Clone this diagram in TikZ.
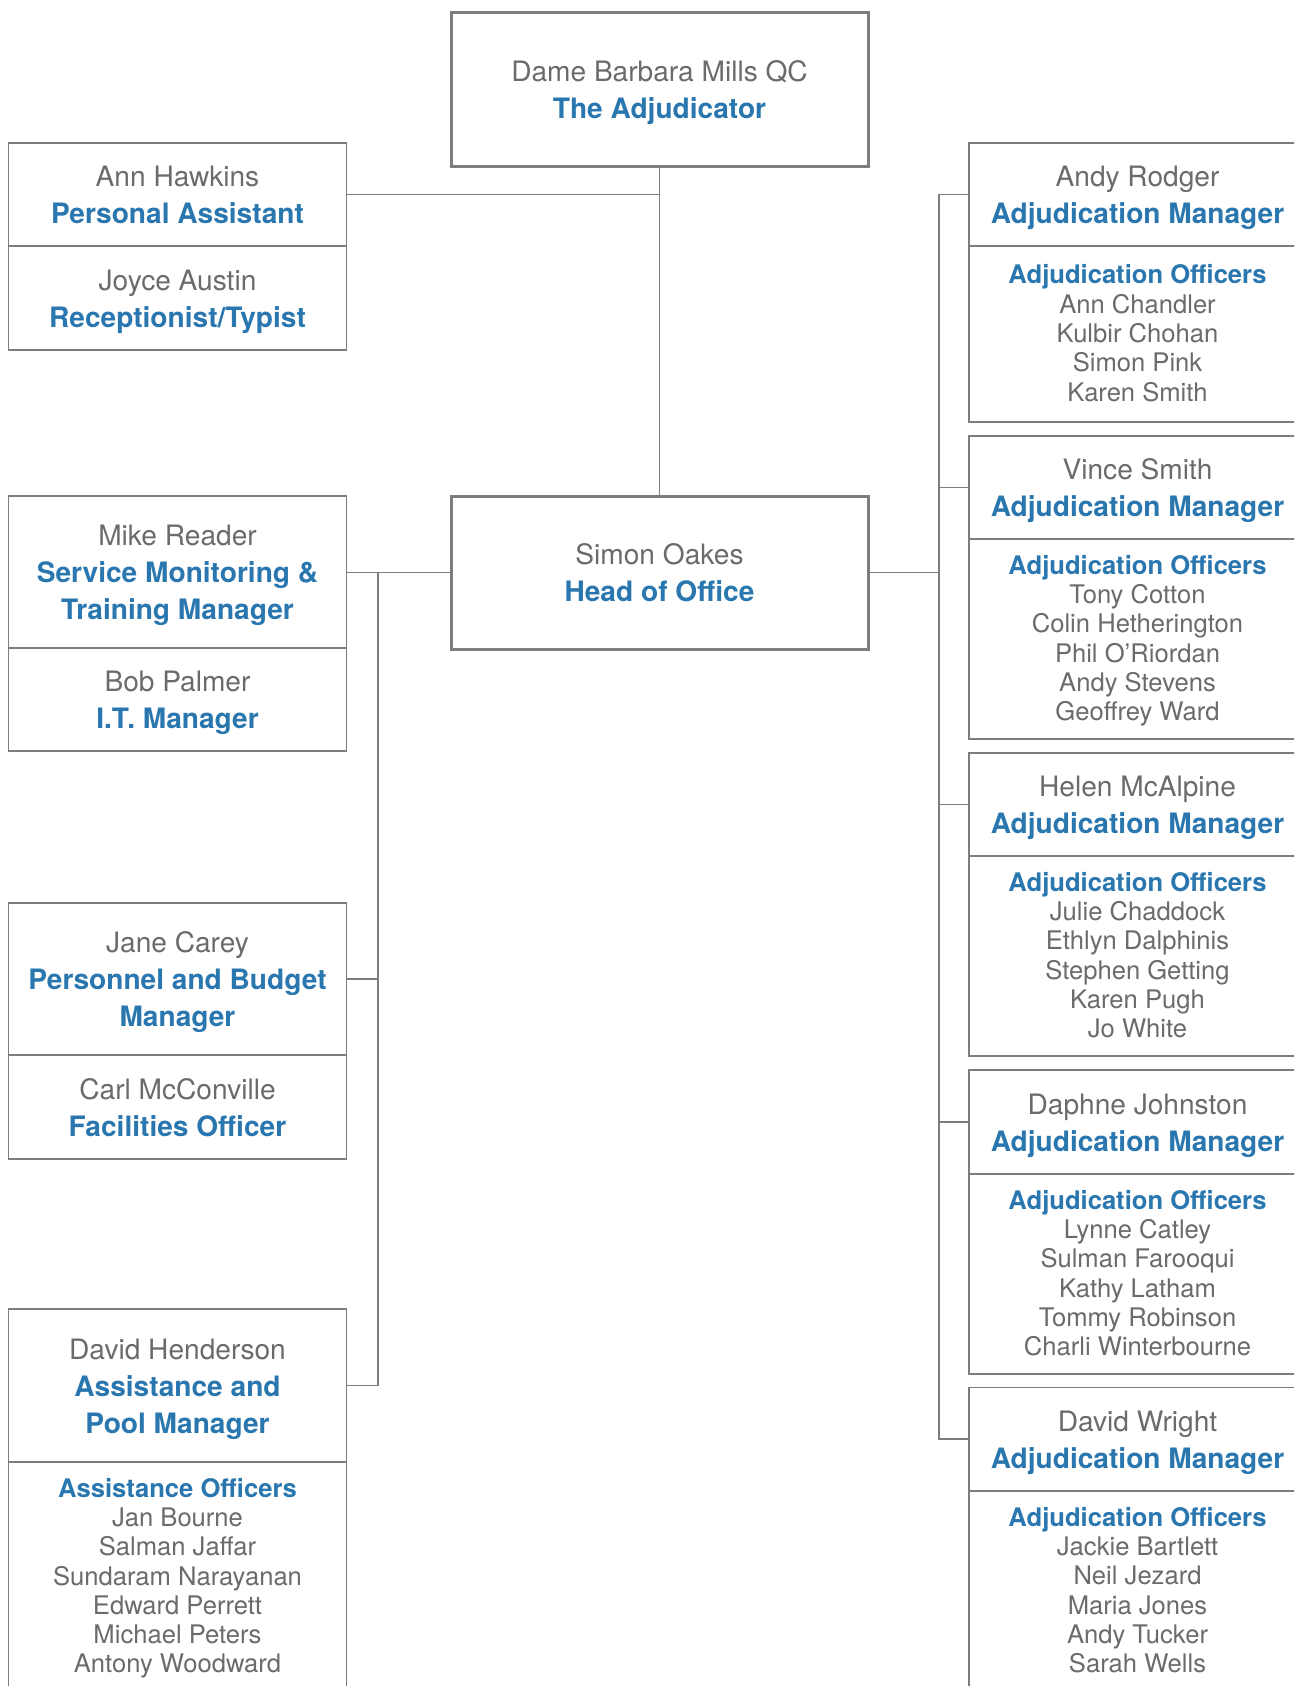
\documentclass[tikz,border=0pt]{standalone}
\usepackage{fontspec}
\setmainfont{TeX Gyre Heros}
\definecolor{tgray}{HTML}{6B6B6B}
\definecolor{tblue}{HTML}{2A77B0}
\definecolor{lgray}{HTML}{7D7D7D}
\newcommand\roleT[1]{{\bfseries\color{tblue}#1}}
\newcommand\tsH{\rule{0pt}{32pt}}
\newcommand\tsO{\rule{0pt}{26pt}}
\tikzset{
 sec/.style={draw=lgray, line width=1.4pt, rectangle, inner sep=0pt, outer sep=0pt, align=center, text=tgray},
 hdr/.style={sec, font=\fontsize{28.1}{37}\selectfont, execute at end node={\rule[-11pt]{0pt}{11pt}}},
 offs/.style={sec, font=\fontsize{25.6}{29.3}\selectfont, execute at end node={\rule[-9pt]{0pt}{9pt}}},
 lsec/.style={minimum width=338pt},
 rsec/.style={minimum width=337pt},
 bigbox/.style={hdr, line width=3pt, minimum width=417pt, minimum height=153pt},
 link/.style={draw=lgray, line width=1.4pt},
}
\begin{document}
\begin{tikzpicture}[x=1pt,y=-1pt]
\useasboundingbox (0,0) rectangle (1294,1686);
\fill[white] (0,0) rectangle (1294,1686);
\clip (0,0) rectangle (1294,1686);

% top and head
\node[bigbox] (adj) at (659.5,89.5) {\tsH Dame Barbara Mills QC\\\roleT{The Adjudicator}};
\node[bigbox] (head) at (659.5,572.5) {\tsH Simon Oakes\\\roleT{Head of Office}};

% left column
\node[hdr, lsec, minimum height=103pt] (L1a) at (177.5,194.5) {\tsH Ann Hawkins\\\roleT{Personal Assistant}};
\node[hdr, lsec, minimum height=104pt] (L1b) at (177.5,298) {\tsH Joyce Austin\\\roleT{Receptionist/Typist}};
\node[hdr, lsec, minimum height=152pt] (L2a) at (177.5,572) {\tsH Mike Reader\\\roleT{Service Monitoring \&}\\\roleT{Training Manager}};
\node[hdr, lsec, minimum height=103pt] (L2b) at (177.5,699.5) {\tsH Bob Palmer\\\roleT{I.T. Manager}};
\node[hdr, lsec, minimum height=152pt] (L3a) at (177.5,979) {\tsH Jane Carey\\\roleT{Personnel and Budget}\\\roleT{Manager}};
\node[hdr, lsec, minimum height=104pt] (L3b) at (177.5,1107) {\tsH Carl McConville\\\roleT{Facilities Officer}};
\node[hdr, lsec, minimum height=153pt] (L4a) at (177.5,1385.5) {\tsH David Henderson\\\roleT{Assistance and}\\\roleT{Pool Manager}};
\node[offs, lsec, minimum height=229pt] (L4b) at (177.5,1576.5) {\tsO\roleT{Assistance Officers}\\Jan Bourne\\Salman Jaffar\\Sundaram Narayanan\\Edward Perrett\\Michael Peters\\Antony Woodward};

% right column
\node[hdr, rsec, minimum height=103pt] (R1a) at (1137.5,194.5) {\tsH Andy Rodger\\\roleT{Adjudication Manager}};
\node[offs, rsec, minimum height=176pt] (R1b) at (1137.5,334) {\tsO\roleT{Adjudication Officers}\\Ann Chandler\\Kulbir Chohan\\Simon Pink\\Karen Smith};
\node[hdr, rsec, minimum height=103pt] (R2a) at (1137.5,487.5) {\tsH Vince Smith\\\roleT{Adjudication Manager}};
\node[offs, rsec, minimum height=200pt] (R2b) at (1137.5,639) {\tsO\roleT{Adjudication Officers}\\Tony Cotton\\Colin Hetherington\\Phil O’Riordan\\Andy Stevens\\Geoffrey Ward};
\node[hdr, rsec, minimum height=103pt] (R3a) at (1137.5,804.5) {\tsH Helen McAlpine\\\roleT{Adjudication Manager}};
\node[offs, rsec, minimum height=200pt] (R3b) at (1137.5,956) {\tsO\roleT{Adjudication Officers}\\Julie Chaddock\\Ethlyn Dalphinis\\Stephen Getting\\Karen Pugh\\Jo White};
\node[hdr, rsec, minimum height=104pt] (R4a) at (1137.5,1122) {\tsH Daphne Johnston\\\roleT{Adjudication Manager}};
\node[offs, rsec, minimum height=200pt] (R4b) at (1137.5,1274) {\tsO\roleT{Adjudication Officers}\\Lynne Catley\\Sulman Farooqui\\Kathy Latham\\Tommy Robinson\\Charli Winterbourne};
\node[hdr, rsec, minimum height=103pt] (R5a) at (1137.5,1439) {\tsH David Wright\\\roleT{Adjudication Manager}};
\node[offs, rsec, minimum height=200pt] (R5b) at (1137.5,1591) {\tsO\roleT{Adjudication Officers}\\Jackie Bartlett\\Neil Jezard\\Maria Jones\\Andy Tucker\\Sarah Wells};

% connectors
\coordinate (lt) at (378,572.5);
\coordinate (rt) at (939,572.5);
\path[link] (adj.south) -- (head.north);
\path[link] (L1a.east) -- (L1a.east -| adj.south);
\path[link] (head.west) -- (L2a.east |- head.west);
\path[link] (lt) |- (L3a.east);
\path[link] (lt) |- (L4a.east);
\path[link] (head.east) -- (rt);
\path[link] (rt) |- (R1a.west);
\path[link] (rt) |- (R2a.west);
\path[link] (rt) |- (R3a.west);
\path[link] (rt) |- (R4a.west);
\path[link] (rt) |- (R5a.west);
\end{tikzpicture}
\end{document}
